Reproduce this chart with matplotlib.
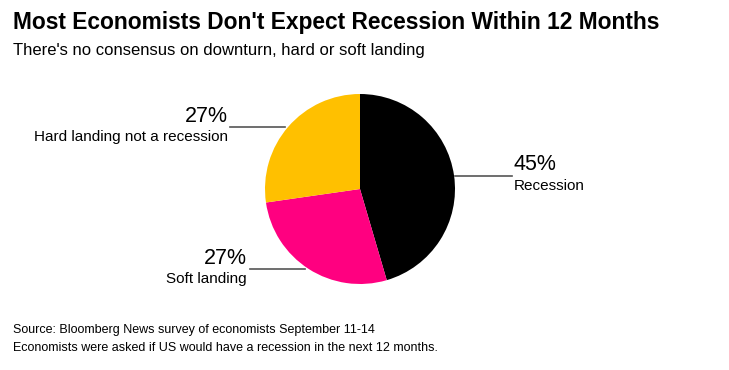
import matplotlib
matplotlib.use("Agg")
import matplotlib.pyplot as plt
from matplotlib.lines import Line2D

categories = ["Recession", "Soft landing", "Hard landing not a recession"]
values = [45, 27, 27]
pct_labels = ["45%", "27%", "27%"]
colors = ["#000000", "#FF0080", "#FFC000"]

W, H = 729, 370
fig = plt.figure(figsize=(W / 100, H / 100), dpi=100)
renderer = fig.canvas.get_renderer()

def fx(x):
    return x / W

def fy(y):
    return 1 - y / H

def fit(t, width_px):
    w = t.get_window_extent(renderer).width
    t.set_fontsize(t.get_fontsize() * width_px / w)
    return t.get_fontsize()

cx, cy, r = 360, 189, 95
ax = fig.add_axes([fx(cx - r), fy(cy + r), 2 * r / W, 2 * r / H])
ax.pie(values, colors=colors, startangle=90, counterclock=False,
       wedgeprops=dict(linewidth=0), radius=1)
ax.set_xlim(-1, 1)
ax.set_ylim(-1, 1)
ax.set_aspect("equal")
ax.axis("off")

sans = ["Liberation Sans", "DejaVu Sans"]

t = fig.text(fx(13), fy(22), "Most Economists Don't Expect Recession Within 12 Months",
             fontsize=16, fontweight="bold", family=sans, va="center", ha="left")
fit(t, 648)
fig.text(fx(13), fy(50), "There's no consensus on downturn, hard or soft landing",
         fontsize=12, family=sans, va="center", ha="left")

# labels: (line x0, x1, y), text x, alignment
label_specs = [
    (455, 512, 176, 514, "left", 164, 186),
    (250, 305, 269, 247, "right", 258, 279),
    (230, 285, 127, 228, "right", 117, 137),
]
for (x0, x1, ly, tx, ha, yp, yc), cat, pct in zip(label_specs, categories, pct_labels):
    fig.add_artist(Line2D([fx(x0), fx(x1)], [fy(ly), fy(ly)], color="#555555",
                          linewidth=1.2, transform=fig.transFigure))
    fig.text(fx(tx), fy(yp), pct, fontsize=15.5, family=sans, ha=ha, va="center")
    fig.text(fx(tx), fy(yc), cat, fontsize=11, family=sans, ha=ha, va="center")

fig.text(fx(13), fy(330), "Source: Bloomberg News survey of economists September 11-14",
         fontsize=9, family=sans, ha="left", va="center")
fig.text(fx(13), fy(348), "Economists were asked if US would have a recession in the next 12 months.",
         fontsize=9, family=sans, ha="left", va="center")

fig.savefig("out.png", dpi=100, facecolor="white")
